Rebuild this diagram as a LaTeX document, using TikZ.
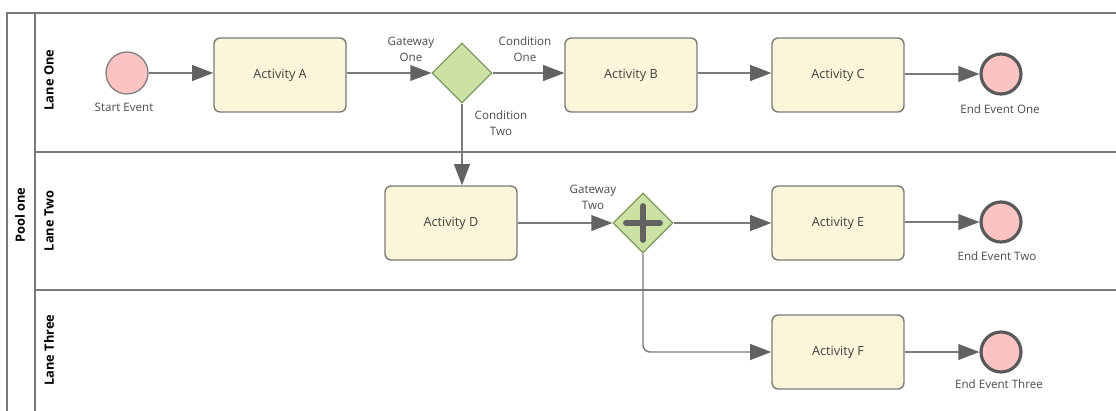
\documentclass[tikz,border=0pt]{standalone}
\usepackage{fontspec}
\setmainfont{Open Sans}
\usetikzlibrary{shapes.geometric,arrows.meta}
\definecolor{linegray}{HTML}{7A7A7A}
\definecolor{tipgray}{HTML}{626262}
\definecolor{textgray}{HTML}{4A4A4A}
\definecolor{actfill}{HTML}{FBF6DA}
\definecolor{gatefill}{HTML}{CCE2A4}
\definecolor{gateline}{HTML}{7F9A5E}
\definecolor{evfill}{HTML}{FBC3C1}
\begin{document}
\begin{tikzpicture}[x=0.02cm, y=-0.02cm,
    font=\fontsize{6.6}{8}\selectfont, text=textgray,
    activity/.style={draw=linegray, fill=actfill, line width=0.8pt, rounded corners=3.5pt,
      minimum width=2.64cm, minimum height=1.48cm, font=\fontsize{7.2}{8}\selectfont,
      text=black!75},
    gateway/.style={diamond, draw=gateline, fill=gatefill, line width=0.7pt, aspect=1,
      inner sep=0pt, minimum width=1.2cm, minimum height=1.2cm},
    startev/.style={circle, draw=linegray, fill=evfill, line width=0.7pt,
      inner sep=0pt, minimum size=0.84cm},
    endev/.style={circle, draw=black!65, fill=evfill, line width=1.8pt,
      inner sep=0pt, minimum size=0.8cm},
    flow/.style={draw=linegray, line width=0.8pt,
      -{Triangle[length=12pt, width=9pt, fill=tipgray, color=tipgray]}},
    lane/.style={draw=linegray, line width=1.2pt},
    lanelabel/.style={rotate=90, font=\fontsize{7.3}{8}\selectfont\bfseries, text=black}]
    \useasboundingbox (0,0) rectangle (1116,410);
    % pool and lanes
    \draw[lane] (1120,13) -- (7,13) -- (7,412);
    \draw[lane] (35,13) -- (35,412);
    \draw[lane] (35,152) -- (1120,152);
    \draw[lane] (35,290) -- (1120,290);
    \node[lanelabel] (pool) at (20,215) {Pool one};
    \node[lanelabel] (l1) at (49,80) {Lane One};
    \node[lanelabel] (l2) at (49,221) {Lane Two};
    \node[lanelabel] (l3) at (49,350) {Lane Three};
    % elements
    \node[startev] (s) at (127,73) {};
    \node (sl) at (124,107) {Start Event};
    \node[activity] (a) at (280,75) {Activity A};
    \node[gateway] (g1) at (462,73) {};
    \node[align=center] (g1l) at (411,49) {Gateway\\[1pt]One};
    \node[align=center] (c1l) at (525,49) {Condition\\[1pt]One};
    \node[align=center] (c2l) at (501,123) {Condition\\[1pt]Two};
    \node[activity] (b) at (631,75) {Activity B};
    \node[activity] (c) at (838,75) {Activity C};
    \node[endev] (e1) at (1001,74) {};
    \node (e1l) at (1000,109) {End Event One};
    \node[activity] (d) at (451,223) {Activity D};
    \node[gateway] (g2) at (643,223) {};
    \node[align=center] (g2l) at (593,197) {Gateway\\[1pt]Two};
    \draw[tipgray, line width=3.3pt, line cap=round] (626,223) -- (660,223);
    \draw[tipgray, line width=3.3pt, line cap=round] (643,206) -- (643,240);
    \node[activity] (e) at (838,223) {Activity E};
    \node[endev] (e2) at (1001,222) {};
    \node (e2l) at (997,256) {End Event Two};
    \node[activity] (f) at (838,352) {Activity F};
    \node[endev] (e3) at (1001,352) {};
    \node (e3l) at (999,384) {End Event Three};
    % sequence flows
    \draw[flow] (s) -- (a.west |- s);
    \draw[flow] (a.east |- g1) -- (g1);
    \draw[flow] (g1) -- (b.west |- g1);
    \draw[flow] (b.east |- g1) -- (c.west |- g1);
    \draw[flow] (c.east |- e1) -- (e1);
    \draw[flow] (g1.south) -- (g1.south |- d.north);
    \draw[flow] (d.east |- g2) -- (g2);
    \draw[flow] (g2) -- (e.west |- g2);
    \draw[flow] (e.east |- e2) -- (e2);
    \draw[flow, rounded corners=4pt] (g2.south) |- (f.west);
    \draw[flow] (f) -- (e3);
  \end{tikzpicture}
\end{document}
